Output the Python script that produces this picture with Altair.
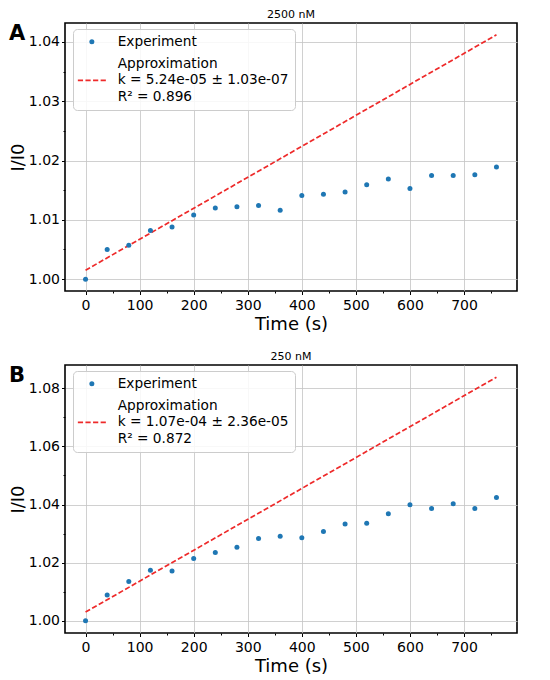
import altair as alt
import pandas as pd

# ---- data ----
time_s = [0, 40, 80, 120, 160, 200, 240, 280, 320, 360, 400, 440, 480, 520, 560, 600, 640, 680, 720, 760]
ratio_2500 = [1.0000, 1.0050, 1.0057, 1.0082, 1.0088, 1.0108, 1.0120, 1.0122, 1.0124, 1.0116,
              1.0141, 1.0143, 1.0147, 1.0159, 1.0169, 1.0153, 1.0175, 1.0175, 1.0176, 1.0189]
ratio_250 = [1.0000, 1.0089, 1.0135, 1.0174, 1.0171, 1.0214, 1.0235, 1.0253, 1.0283, 1.0291,
             1.0286, 1.0307, 1.0333, 1.0336, 1.0368, 1.0399, 1.0386, 1.0403, 1.0386, 1.0424]
fit_t = [0, 760]
fit_2500 = [1.0015, 1.0412]
fit_250 = [1.0030, 1.0838]

titles = ["2500 nM", "250 nM"]
letters = ["A", "B"]
fit_text_2500 = "Approximation\nk = 5.24e-05 ± 1.03e-07\nR² = 0.896"
fit_text_250 = "Approximation\nk = 1.07e-04 ± 2.36e-05\nR² = 0.872"

x_major = [0, 100, 200, 300, 400, 500, 600, 700]
x_minor = [50, 150, 250, 350, 450, 550, 650, 750]
y_major_2500 = [1.00, 1.01, 1.02, 1.03, 1.04]
y_minor_2500 = [1.005, 1.015, 1.025, 1.035]
y_major_250 = [1.00, 1.02, 1.04, 1.06, 1.08]
y_minor_250 = [1.01, 1.03, 1.05, 1.07]

BLUE = "#1f77b4"
RED = "#ee2a2a"
FONT = "DejaVu Sans"
# legend glyph for the fit: a dashed stroke, lowered to sit beside the middle text line
DASH_PATH = ("M-5.6,6.24H-3.52V6.96H-5.6Z M-2.56,6.24H-0.48V6.96H-2.56Z "
             "M0.48,6.24H2.56V6.96H0.48Z M3.52,6.24H5.6V6.96H3.52Z")


def panel(letter, title, ratios, fit_vals, fit_text, y_dom, y_major, y_minor, minor_test):
    pts = pd.DataFrame({"t": time_s, "v": ratios, "series": "Experiment"})
    fit = pd.DataFrame({"t": fit_t, "v": fit_vals})
    lab = pd.DataFrame({"lab": [letter]})

    x_enc = alt.X(
        "t:Q",
        scale=alt.Scale(domain=[-38, 798], nice=False, zero=False),
        axis=alt.Axis(
            values=x_major + x_minor,
            labelExpr="datum.value % 100 == 0 ? datum.label : ''",
            tickSize={"condition": {"test": "datum.value % 100 != 0", "value": 2}, "value": 3.5},
            gridOpacity={"condition": {"test": "datum.value % 100 != 0", "value": 0}, "value": 1},
            labelPadding=3.5,
            titlePadding=3,
            title="Time (s)",
        ),
    )
    y_enc = alt.Y(
        "v:Q",
        scale=alt.Scale(domain=y_dom, nice=False, zero=False),
        axis=alt.Axis(
            values=y_major + y_minor,
            format=".2f",
            labelExpr=f"({minor_test}) ? '' : datum.label",
            tickSize={"condition": {"test": minor_test, "value": 2}, "value": 3.5},
            gridOpacity={"condition": {"test": minor_test, "value": 0}, "value": 1},
            labelPadding=2,
            titlePadding=1,
            title="I/I0",
        ),
    )
    legend = alt.Legend(
        title=None,
        orient="none",
        legendX=8,
        legendY=6,
        padding=6,
        fillColor="rgba(255,255,255,0.85)",
        strokeColor="#cccccc",
        cornerRadius=4,
        labelFont=FONT,
        labelFontSize=13.7,
        labelColor="black",
        labelLimit=400,
        labelExpr="split(datum.label, '\\n')",
        symbolSize=25,
        symbolStrokeWidth=0,
        symbolOffset=6,
        labelOffset=19,
        rowPadding=7,
    )
    domain = ["Experiment", fit_text]
    points = alt.Chart(pts).mark_point(filled=True, opacity=1, size=25, strokeWidth=0).encode(
        x=x_enc,
        y=y_enc,
        color=alt.Color("series:N", scale=alt.Scale(domain=domain, range=[BLUE, RED]), legend=legend),
        shape=alt.Shape("series:N", scale=alt.Scale(domain=domain, range=["circle", DASH_PATH]), legend=legend),
    )
    line = alt.Chart(fit).mark_line(color=RED, strokeDash=[5.2, 2.4], strokeWidth=1.7).encode(
        x=x_enc, y=y_enc
    )
    letter_mark = alt.Chart(lab).mark_text(
        font=FONT, fontSize=21, fontWeight="bold", align="left", baseline="alphabetic", color="black"
    ).encode(x=alt.value(-56), y=alt.value(17), text="lab:N")

    return alt.layer(line, points, letter_mark).properties(
        width=452, height=268, title=alt.TitleParams(title)
    )


top = panel("A", titles[0], ratio_2500, fit_2500, fit_text_2500, [0.998, 1.0432],
            y_major_2500, y_minor_2500, "round(datum.value*1000) % 10 != 0")
bottom = panel("B", titles[1], ratio_250, fit_250, fit_text_250, [0.9958, 1.0880],
               y_major_250, y_minor_250, "round(datum.value*100) % 2 != 0")

chart = (
    alt.vconcat(top, bottom, spacing=16)
    .resolve_scale(color="independent", shape="independent")
    .properties(padding={"left": 0, "top": 0, "right": 5, "bottom": 0}, background="white")
    .configure(style={"guide-label": {"lineHeight": 16.5}})
    .configure_view(stroke="black", strokeWidth=1.6)
    .configure_axis(
        domain=False,
        grid=True,
        gridColor="#c4c4c4",
        gridWidth=0.8,
        tickColor="black",
        tickWidth=1,
        labelFont=FONT,
        labelFontSize=14,
        labelColor="black",
        titleFont=FONT,
        titleFontSize=18,
        titleFontWeight="normal",
        titleColor="black",
    )
    .configure_title(font=FONT, fontSize=11, fontWeight="normal", offset=3, color="black")
)

chart.save("out.html", embed_options={"renderer": "svg", "actions": False})
